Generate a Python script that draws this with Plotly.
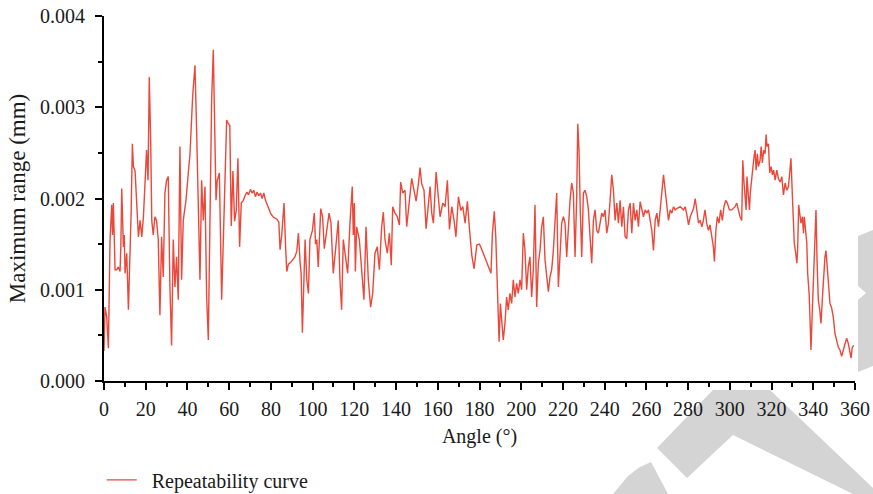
import plotly.graph_objects as go

# ---- data (range in micrometres = 0.001 mm) ----
angle_deg = [
    0, 0.5, 1.3, 2.1, 2.9, 3.7, 4.1, 4.5, 5.3, 6.1, 6.9, 7.7, 8.1, 8.5, 9.3, 9.7, 10.1, 10.9, 11.7, 12.5,
    13.0, 13.6, 14.1, 14.9, 15.7, 16.5, 17.3, 18.1, 18.9, 19.6, 20.4, 21.1, 21.7, 22.4, 22.9, 23.6, 24.4,
    25.2, 26.0, 26.8, 27.6, 28.4, 29.2, 30.0, 30.8, 31.6, 32.4, 33.2, 34.0, 34.8, 35.6, 36.4, 37.2, 38.0,
    39.3, 40.4, 41.2, 42.5, 43.6, 44.4, 45.2, 46.0, 46.8, 47.6, 48.4, 49.2, 50.0, 50.8, 51.6, 52.4, 53.2,
    53.7, 54.3, 55.3, 56.4, 57.2, 58.0, 58.8, 59.6,
    60.3, 61.0, 61.8, 62.6, 63.4, 64.2, 65.0, 65.8, 66.8, 67.6, 68.5, 69.3, 70.2, 71.0, 71.8, 72.6, 73.4,
    74.2, 75.0, 75.8, 76.6, 77.4, 78.2, 79.0, 80.0, 81.0, 82.0, 83.0, 83.8, 84.4, 85.2, 86.3, 87.0, 87.6,
    88.4, 89.5, 90.5, 91.5, 92.4, 93.2, 94.0, 94.5, 95.1, 95.8, 96.4, 97.2, 98.0, 98.7, 99.9, 100.8, 101.4,
    102.0, 102.7, 103.9, 104.8, 105.6, 106.7, 107.9, 108.8, 109.9, 111.0, 112.3, 113.1, 113.9, 114.7,
    115.8, 116.8, 117.9, 119.0, 119.5, 120.0,
    120.5, 121.1, 122.4, 123.5, 124.6, 125.6, 126.7, 127.8, 128.8, 129.9, 131.0, 132.0, 133.1, 133.9,
    134.7, 135.8, 136.8, 137.7, 138.4, 139.5, 140.6, 141.6, 142.2, 143.2, 144.3, 145.1, 146.4, 147.5,
    148.6, 149.6, 150.7, 151.5, 152.3, 153.4, 154.4, 155.5, 156.3, 157.1, 157.9, 159.2, 160.3, 161.1,
    162.4, 163.5, 164.6, 165.6, 166.7, 167.8, 168.7, 169.9, 171.0, 172.0, 173.1, 174.2, 175.1, 176.3,
    177.4, 178.7, 179.9,
    180.2, 181.8, 183.0, 184.2, 185.5, 186.2, 187.1, 187.8, 188.4, 189.0, 189.4, 190.0, 190.6, 191.4,
    192.2, 193.0, 193.8, 194.6, 195.4, 196.2, 197.0, 197.8, 198.6, 199.4, 200.2, 201.0, 201.8, 202.6,
    203.4, 204.2, 205.0, 205.8, 206.6, 207.4, 208.2, 209.0, 209.8, 210.6, 211.4, 212.2, 213.0, 213.8,
    214.6, 215.4, 216.2, 217.0, 217.8, 218.6, 219.4, 220.2, 221.0, 221.8, 222.6, 223.4, 224.2, 225.0,
    225.8, 226.6, 227.1, 227.7, 228.3, 229.0, 229.8, 230.6, 231.4, 232.2, 233.0, 233.8, 234.6, 235.4,
    236.2, 237.0, 237.8, 238.6, 239.4, 240.2,
    241.0, 241.8, 242.6, 243.4, 244.2, 245.0, 245.8, 246.6, 247.4, 248.2, 249.0, 249.8, 250.6, 251.4,
    252.2, 253.0, 253.8, 254.6, 255.4, 256.2, 257.0, 257.8, 258.6, 259.4, 260.2, 261.0, 261.8, 262.6,
    263.4, 264.2, 265.0, 265.8, 266.6, 267.4, 268.2, 269.0, 269.8, 270.6, 271.4, 272.2, 273.0, 273.8,
    274.6, 276.2, 277.8, 278.6, 279.4, 280.2, 281.0, 282.6, 283.4, 284.2, 285.0, 285.8, 286.6, 287.3,
    288.1, 288.9, 289.7, 290.5, 291.3, 292.1, 292.6, 293.3, 294.0, 294.8, 295.6, 296.4, 297.2, 298.0,
    298.8, 299.8,
    300.9, 302.5, 303.3, 304.1, 304.9, 305.7, 306.2, 306.8, 307.3, 307.8, 308.2, 308.9, 309.4, 309.8,
    310.5, 311.0, 311.6, 312.1, 312.6, 313.2, 313.7, 314.5, 315.0, 315.6, 316.2, 316.9, 317.4, 317.8,
    318.5, 319.1, 319.8, 320.4, 321.0, 321.7, 322.5, 323.3, 324.1, 324.9, 325.7, 326.5, 327.3, 328.1,
    328.9, 329.3, 330.0, 330.5, 330.9, 331.6, 332.1, 332.5, 333.0, 333.7, 334.1, 334.8, 335.3, 335.7,
    336.2, 336.9, 337.3, 338.0, 338.5, 338.9, 339.6, 340.2, 340.8, 341.3, 341.8, 342.4, 343.1, 343.7,
    344.4, 345.0, 345.6, 346.1, 346.6, 347.2, 348.0, 348.8, 349.6, 350.4, 351.2, 352.0, 352.8, 353.6,
    354.4, 355.2, 356.0, 356.8, 357.6, 358.1, 358.7, 359.4,
]

max_range_um = [
    0.33, 0.81, 0.70, 0.36, 1.55, 1.93, 1.60, 1.95, 1.22, 1.22, 1.25, 1.20, 1.50, 2.11, 1.47, 1.60, 1.18, 1.40, 0.78, 1.30,
    1.84, 2.60, 2.35, 2.30, 1.95, 1.58, 1.76, 1.58, 1.80, 2.20, 2.53, 2.20, 3.33, 2.60, 1.76, 1.60, 1.80,
    1.76, 1.55, 0.72, 1.58, 1.14, 2.06, 2.20, 2.24, 1.03, 0.39, 1.55, 1.03, 1.36, 0.89, 2.57, 1.11, 1.76,
    1.98, 2.28, 2.48, 3.12, 3.46, 2.75, 1.87, 1.11, 2.20, 1.76, 2.13, 0.92, 0.45, 2.13, 3.08, 3.63, 2.82,
    1.98, 2.20, 2.28, 0.89, 1.58, 2.28, 2.86, 2.82,
    2.80, 1.70, 2.30, 1.75, 1.87, 2.44, 1.47, 1.95, 1.98, 2.03, 2.07, 2.04, 2.10, 2.06, 2.09, 2.02, 2.07,
    2.03, 2.06, 2.00, 2.06, 1.98, 1.93, 1.88, 1.83, 1.80, 1.78, 1.77, 1.74, 1.44, 1.60, 1.95, 1.50, 1.20,
    1.28, 1.30, 1.33, 1.36, 1.42, 1.62, 1.30, 1.18, 0.53, 1.00, 1.55, 1.11, 0.96, 1.55, 1.65, 1.84, 1.50,
    1.55, 1.25, 1.89, 1.80, 1.45, 1.62, 1.84, 1.73, 1.18, 1.44, 1.76, 1.11, 0.78, 1.55,
    1.33, 1.18, 1.73, 2.13, 1.60, 1.95,
    1.20, 1.69, 1.55, 1.18, 0.89, 1.69, 1.11, 0.81, 0.96, 1.40, 1.47, 1.22, 1.69, 1.85,
    1.55, 1.40, 1.62, 1.27, 1.91, 1.84, 1.80, 1.71, 2.18, 2.06, 2.09, 1.69, 1.97, 2.22,
    2.09, 1.97, 2.16, 2.34, 2.16, 2.09, 1.67, 1.91, 2.13, 1.84, 1.73, 2.29, 2.02, 1.80,
    1.95, 1.91, 2.20, 1.66, 1.91, 1.76, 1.58, 2.02, 1.87, 1.91, 1.73, 1.97, 1.69, 1.38,
    1.23, 1.49, 1.50,
    1.49, 1.40, 1.33, 1.25, 1.18, 1.62, 1.86, 1.58, 1.14, 0.67, 0.43, 0.85, 0.63, 0.45,
    0.63, 0.92, 0.78, 0.96, 0.85, 1.11, 0.92, 1.07, 0.96, 1.11, 1.00, 1.62, 1.43, 1.00,
    1.25, 1.36, 0.92, 1.22, 1.93, 0.81, 1.29, 1.43, 1.69, 1.80, 1.33, 1.14, 0.98, 1.14,
    1.22, 1.43, 1.76, 2.06, 1.03, 1.47, 1.73, 1.80, 1.73, 1.36, 1.69, 1.98, 2.17, 2.06,
    1.36, 2.02, 2.82, 2.53, 1.875, 1.36, 2.06, 2.09, 2.02, 1.875, 1.58, 1.29, 1.76, 1.875,
    1.65, 1.62, 1.73, 1.84, 1.80, 1.875,
    1.62, 1.73, 1.98, 2.26, 2.09, 1.76, 1.95, 1.73, 1.98, 1.69, 1.91, 1.58, 1.56, 1.875,
    1.95, 1.62, 1.95, 1.76, 1.875, 1.69, 1.965, 1.875, 1.80, 1.875, 1.84, 1.875, 1.76, 1.65,
    1.43, 1.76, 1.84, 1.69, 1.875, 2.04, 2.26, 2.09, 1.95, 1.76, 1.875, 1.84, 1.91, 1.875,
    1.89, 1.91, 1.875, 1.91, 1.82, 1.71, 1.80, 1.89, 2.00, 1.84, 1.73, 1.76, 1.69, 1.76,
    1.875, 1.73, 1.65, 1.71, 1.58, 1.47, 1.31, 1.65, 1.80, 1.73, 1.875, 1.76, 1.91, 1.98,
    1.95, 1.875,
    1.875, 1.91, 1.95, 1.875, 1.80, 1.76, 2.42, 2.17, 2.02, 1.875, 2.24, 1.98, 1.875, 2.06,
    2.24, 2.31, 2.46, 2.53, 2.31, 2.49, 2.35, 2.42, 2.57, 2.39, 2.53, 2.49, 2.70, 2.57,
    2.60, 2.28, 2.35, 2.26, 2.31, 2.20, 2.31, 2.22, 2.18, 2.24, 2.04, 2.17, 2.09, 2.13,
    2.35, 2.44, 2.02, 1.76, 1.51, 1.40, 1.29, 1.43, 1.93, 1.80, 1.73, 1.80, 1.62, 1.80,
    1.69, 1.51, 1.18, 0.96, 0.63, 0.34, 0.81, 1.22, 1.58, 1.875, 1.33, 0.89, 0.78, 0.63,
    0.92, 1.22, 1.36, 1.43, 1.25, 1.14, 0.85, 0.80, 0.70, 0.52, 0.45, 0.37, 0.34, 0.27,
    0.34, 0.41, 0.47, 0.41, 0.30, 0.25, 0.37, 0.39,
]

max_range_mm = [v / 1000.0 for v in max_range_um]  # unit conversion um -> mm

x_ticks = list(range(0, 361, 20))
y_ticks = [0.0, 0.001, 0.002, 0.003, 0.004]
series_name = "Repeatability curve"

# ---- figure ----
W, H = 873, 494
L, R, T, B = 104, 18, 16, 113
FONT = "Liberation Serif, Times New Roman, serif"
TXT = "#1a1a1a"

fig = go.Figure()
fig.add_trace(go.Scatter(
    x=angle_deg, y=max_range_mm, mode="lines", name="\u00a0\u00a0" + series_name,
    line=dict(color="#E9483B", width=1.4),
))

# decorative grey watermark (page pixel coords -> paper coords)
PX0, PX1, PY0, PY1 = L, W - R, T, H - B
def pp(px, py):
    return ((px - PX0) / (PX1 - PX0), (PY1 - py) / (PY1 - PY0))

def path(points):
    pts = [pp(x, y) for x, y in points]
    return "M " + " L ".join(f"{x:.4f},{y:.4f}" for x, y in pts) + " Z"

wm_polys = [
    [(657, 448), (713, 390), (770, 390), (873, 488), (873, 494), (853, 494), (733, 435), (687, 478)],
    [(613, 494), (628, 476), (640, 467), (651, 462), (668, 494)],
    [(858, 236), (873, 230), (873, 366), (858, 372), (858, 300), (866, 293), (858, 286)],
]
for poly in wm_polys:
    fig.add_shape(type="path", path=path(poly), xref="paper", yref="paper",
                  fillcolor="#d4d4d4", line=dict(width=0), layer="below")

axis_common = dict(
    showline=True, linecolor="black", linewidth=2,
    ticks="outside", tickcolor="black", tickwidth=2, ticklen=7,
    showgrid=False, zeroline=False, mirror=False, automargin=False,
    ticklabeloverflow="allow",
    tickfont=dict(family=FONT, size=20, color=TXT),
)

fig.update_xaxes(
    range=[0, 360], tickmode="array", tickvals=x_ticks, ticklabelstandoff=2,
    title=dict(text="Angle (°)", font=dict(family=FONT, size=20, color=TXT), standoff=10),
    minor=dict(ticks="outside", ticklen=4, tickwidth=2, tickcolor="black", dtick=10, tick0=0),
    **axis_common,
)
fig.update_yaxes(
    range=[0, 0.004], tickmode="array", tickvals=y_ticks, tickformat=".3f", ticklabelstandoff=6,
    title=dict(text="Maximum range (mm)", font=dict(family=FONT, size=23, color=TXT), standoff=8),
    minor=dict(ticks="outside", ticklen=4, tickwidth=2, tickcolor="black", dtick=0.0005, tick0=0),
    **axis_common,
)

fig.update_layout(
    width=W, height=H,
    margin=dict(l=L, r=R, t=T, b=B, pad=0, autoexpand=False),
    paper_bgcolor="white", plot_bgcolor="white",
    showlegend=True,
    legend=dict(
        orientation="h", x=-0.003, xanchor="left", y=-0.271, yanchor="middle",
        font=dict(family=FONT, size=20, color=TXT),
        bgcolor="rgba(0,0,0,0)", borderwidth=0,
    ),
    font=dict(family=FONT),
)

# remove the browser's default 8 px body margin so the figure fills the window exactly
fig.write_html(
    "out.html",
    config={"displayModeBar": False},
    post_script="document.body.style.margin='0px';",
)
